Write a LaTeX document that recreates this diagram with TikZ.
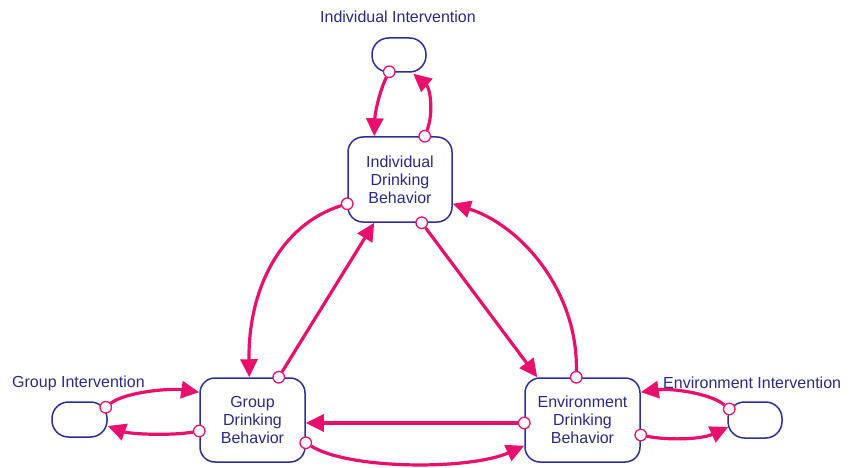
\documentclass[tikz,border=0pt]{standalone}
\usepackage{fontspec}
\setmainfont{Liberation Sans}
\usetikzlibrary{arrows.meta,calc}
\definecolor{pk}{HTML}{E8106C}
\definecolor{nv}{HTML}{2E2E9A}
\definecolor{tx}{HTML}{2A2A86}
\begin{document}
\begin{tikzpicture}[x=1pt,y=-1pt,
  box/.style={draw=nv,line width=1.5pt,rounded corners=15pt,fill=white,inner sep=0pt,align=center,text=tx,font=\fontsize{16}{18}\selectfont},
  stock/.style={draw=nv,line width=1.5pt,rounded corners=16.5pt,inner sep=0pt,minimum width=54pt,minimum height=34pt},
  dot/.style={circle,draw=pk,fill=white,line width=1.3pt,minimum size=11.5pt,inner sep=0pt},
  conn/.style={draw=pk,line width=3.2pt,-{Triangle[length=18pt,width=17pt]}},
  lab/.style={text=tx,font=\fontsize{16}{18}\selectfont,inner sep=0pt}]
\useasboundingbox (0,0) rectangle (857,468);

% main boxes
\node[box,minimum width=104pt,minimum height=85pt] (idb) at (400,179.5) {Individual\\Drinking\\Behavior};
\node[box,minimum width=105pt,minimum height=84pt] (gdb) at (252.5,420) {Group\\Drinking\\Behavior};
\node[box,minimum width=115pt,minimum height=84pt] (edb) at (582.5,420) {Environment\\Drinking\\Behavior};

% intervention boxes
\node[stock] (iint) at (399,55) {};
\node[stock,minimum width=55pt,minimum height=35pt] (gint) at (79.5,419.5) {};
\node[stock,minimum height=36pt] (eint) at (755,420) {};

% labels
\node[lab] (lii) at (398,17) {Individual Intervention};
\node[lab,anchor=west] (lgi) at (12,383) {Group Intervention};
\node[lab,anchor=west] (lei) at (663,383) {Environment Intervention};

% source markers
\node[dot] (c1) at ($(iint.south west)+(18,-1)$) {};
\node[dot] (c2) at ($(idb.north east)+(-28,0)$) {};
\node[dot] (c3) at ($(idb.south west)+(0,-19)$) {};
\node[dot] (c4) at ($(gdb.north east)+(-27,0)$) {};
\node[dot] (c5) at ($(idb.south east)+(-31,0)$) {};
\node[dot] (c6) at ($(edb.north west)+(52,0)$) {};
\node[dot] (c7) at ($(edb.west)+(0,3)$) {};
\node[dot] (c8) at ($(gdb.south east)+(0,-20)$) {};
\node[dot] (c9) at ($(gint.north east)+(-2,6)$) {};
\node[dot] (c10) at ($(gdb.west)+(0,11)$) {};
\node[dot] (c11) at ($(eint.west)+(2,-11)$) {};
\node[dot] (c12) at ($(edb.east)+(0,15)$) {};

% connectors
\draw[conn] (c1) .. controls (380,90) and (375,112) .. ($(idb.north west)+(27,0)$);
\draw[conn] (c2) .. controls (434,112) and (430,88) .. ($(iint.south west)+(42,1)$);
\draw[conn] (c3) .. controls (280,225) and (248,290) .. ($(gdb.north west)+(50,0)$);
\draw[conn] (c4) -- ($(idb.south west)+(27,0)$);
\draw[conn] (c5) -- ($(edb.north west)+(13,0)$);
\draw[conn] (c6) .. controls (578,290) and (520,225) .. ($(idb.south east)+(0,-19)$);
\draw[conn] (c7) -- ($(gdb.east)+(0,3)$);
\draw[conn] (c8) .. controls (350,470) and (470,470) .. ($(edb.south west)+(0,-17)$);
\draw[conn] (c9) .. controls (125,392) and (170,388) .. ($(gdb.north west)+(0,15)$);
\draw[conn] (c10) .. controls (170,436) and (130,434) .. ($(gint.east)+(0,6.5)$);
\draw[conn] (c11) .. controls (710,393) and (670,388) .. ($(edb.north east)+(0,15)$);
\draw[conn] (c12) .. controls (665,440) and (700,440) .. ($(eint.west)+(1,7)$);
\end{tikzpicture}
\end{document}
